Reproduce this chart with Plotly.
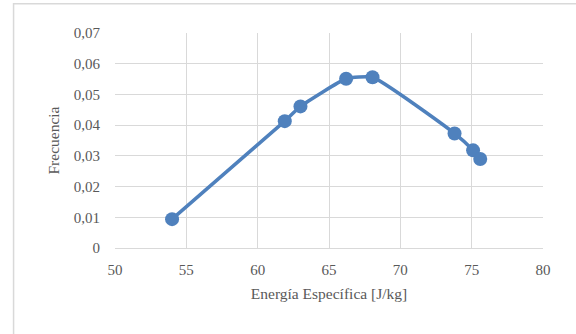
import plotly.graph_objects as go

energia = [54.0, 61.9, 63.0, 66.2, 68.05, 73.8, 75.1, 75.6]
frecuencia = [0.0094, 0.0413, 0.0461, 0.0551, 0.0556, 0.0373, 0.0318, 0.0290]

x_ticks = [50, 55, 60, 65, 70, 75, 80]
y_ticks = [0, 0.01, 0.02, 0.03, 0.04, 0.05, 0.06, 0.07]
y_labels = ["0", "0,01", "0,02", "0,03", "0,04", "0,05", "0,06", "0,07"]

blue = "#4F81BD"
grid = "#D9D9D9"
txt = "#595959"
font_family = "Liberation Serif"

fig = go.Figure()
fig.add_trace(go.Scatter(
    x=energia, y=frecuencia, mode="lines+markers",
    line=dict(color=blue, width=3.5, shape="spline", smoothing=0.45),
    marker=dict(color=blue, size=14),
    showlegend=False, hoverinfo="skip",
))

fig.update_layout(
    width=576, height=334,
    margin=dict(l=114.6, r=33, t=33.3, b=85.7),
    paper_bgcolor="white", plot_bgcolor="white",
    font=dict(family=font_family, size=15, color=txt),
    xaxis=dict(
        range=[50, 80], tickvals=x_ticks, ticktext=[str(v) for v in x_ticks],
        showgrid=True, gridcolor=grid, gridwidth=1.3,
        showline=True, linecolor=grid, linewidth=1.3,
        zeroline=False, ticks="", ticklabelstandoff=8,
        title=dict(text="Energía Específica [J/kg]", font=dict(family=font_family, size=15.5, color=txt), standoff=10),
        tickfont=dict(family=font_family, size=15, color=txt),
    ),
    yaxis=dict(
        range=[0, 0.07], tickvals=y_ticks, ticktext=y_labels,
        showgrid=True, gridcolor=grid, gridwidth=1.3,
        showline=False, zeroline=False, ticks="", ticklabelstandoff=14,
        title=dict(text="Frecuencia", font=dict(family=font_family, size=15.5, color=txt), standoff=10),
        tickfont=dict(family=font_family, size=15, color=txt),
    ),
    shapes=[dict(
        type="rect", xref="paper", yref="paper",
        x0=-0.237, x1=1.3, y0=-0.8, y1=1.136,
        line=dict(color="#D9D9D9", width=1.5), fillcolor="rgba(0,0,0,0)", layer="below",
    )],
)

fig.write_html("out.html")
